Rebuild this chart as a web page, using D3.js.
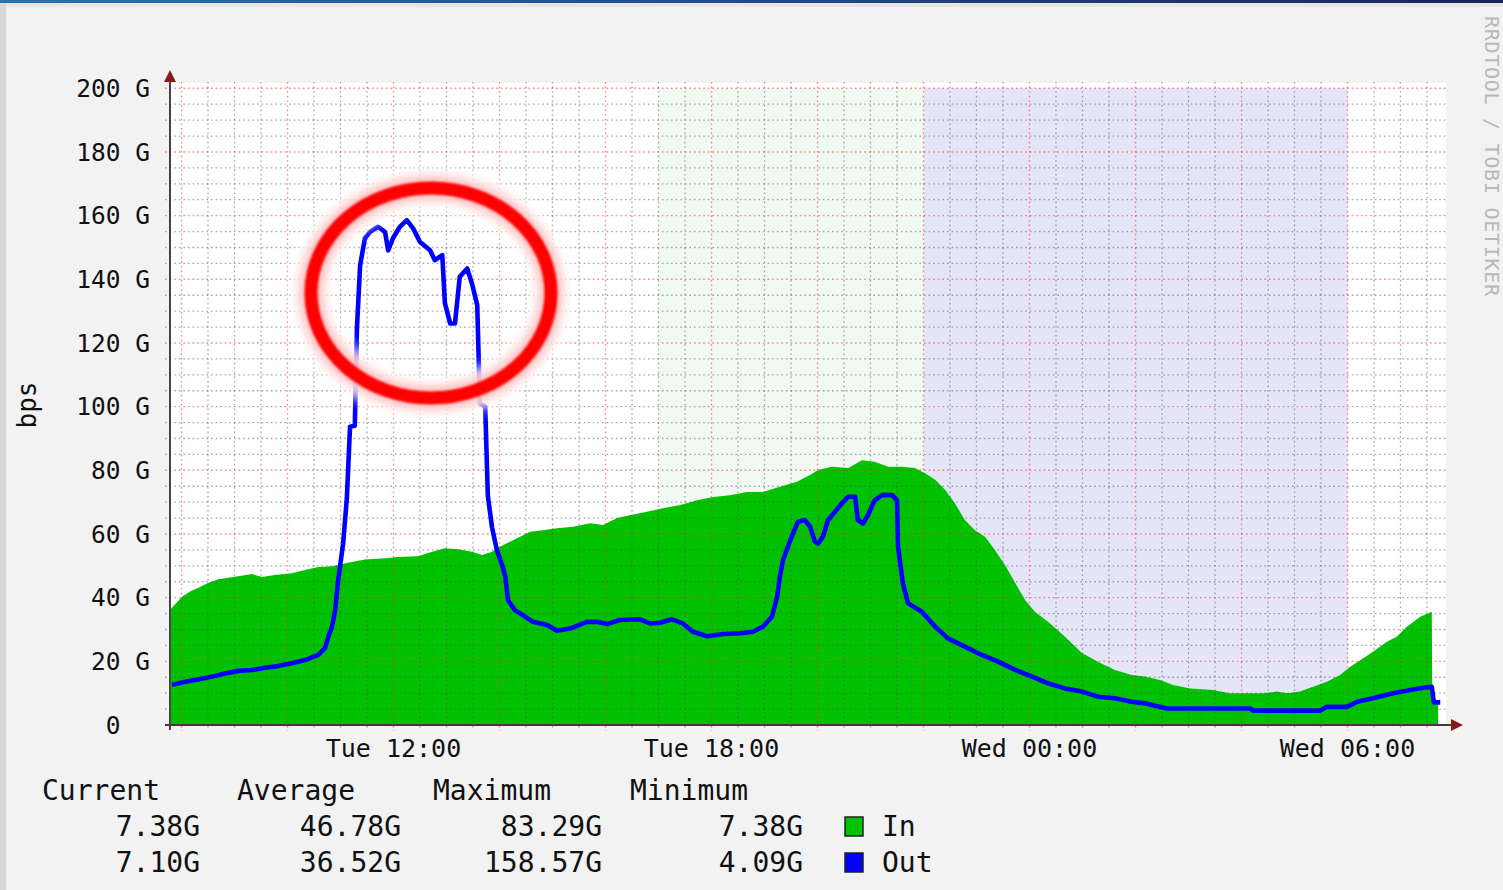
<!DOCTYPE html>
<html><head><meta charset="utf-8">
<script src="https://cdn.jsdelivr.net/npm/d3@7"></script>
<style>
html,body{margin:0;padding:0;background:#f2f2f2;}
svg{display:block;}
text{font-family:"DejaVu Sans Mono",monospace;fill:#111;}
</style></head><body>
<svg id="chart" width="1503" height="890"></svg>
<script>
// ---- data (time in hours since Tue 00:00, values in Gbps) ----
const inTimes = [7.78, 8.01, 8.16, 8.31, 8.50, 8.69, 9.01, 9.33, 9.52, 9.76, 10.08, 10.33, 10.58, 10.84, 11.14, 11.46, 11.84, 12.08, 12.46, 12.73, 12.97, 13.22, 13.48, 13.67, 13.86, 13.95, 14.14, 14.33, 14.58, 14.82, 15.08, 15.39, 15.71, 15.95, 16.22, 16.46, 16.78, 17.08, 17.41, 17.73, 18.03, 18.35, 18.67, 18.97, 19.29, 19.61, 19.86, 20.01, 20.27, 20.58, 20.84, 21.08, 21.33, 21.59, 21.84, 22.03, 22.22, 22.41, 22.59, 22.78, 22.97, 23.16, 23.35, 23.54, 23.73, 23.92, 24.10, 24.35, 24.67, 24.99, 25.29, 25.61, 25.93, 26.18, 26.46, 26.71, 27.03, 27.46, 27.78, 28.10, 28.41, 28.67, 28.86, 29.10, 29.35, 29.61, 29.86, 30.05, 30.29, 30.48, 30.75, 30.93, 31.12, 31.37, 31.59, 31.60, 31.71];
const inValues = [36.1, 40.3, 41.9, 43.0, 44.6, 45.8, 46.6, 47.4, 46.5, 47.1, 47.7, 48.7, 49.6, 49.9, 51.0, 52.0, 52.4, 52.8, 53.0, 54.4, 55.5, 55.2, 54.4, 53.4, 54.4, 55.5, 57.1, 58.7, 60.7, 61.2, 61.8, 62.3, 63.4, 62.8, 65.0, 65.9, 67.0, 68.1, 69.1, 70.6, 71.6, 72.2, 73.2, 73.2, 74.8, 76.4, 78.5, 80.1, 81.1, 80.7, 83.2, 82.7, 81.1, 81.1, 80.7, 79.1, 77.0, 73.8, 69.7, 64.4, 61.2, 59.1, 54.9, 50.2, 44.6, 39.2, 35.6, 32.4, 27.7, 22.6, 19.9, 17.3, 15.7, 15.2, 14.1, 12.6, 11.5, 11.0, 10.0, 10.0, 10.0, 10.5, 10.0, 10.5, 12.0, 13.6, 15.7, 18.3, 20.9, 23.0, 26.2, 27.7, 30.9, 34.0, 35.6, 7.38, 7.38];

const outTimes = [7.82, 8.07, 8.31, 8.58, 8.82, 9.07, 9.33, 9.58, 9.82, 10.08, 10.33, 10.58, 10.71, 10.77, 10.84, 10.90, 10.95, 11.05, 11.12, 11.18, 11.27, 11.31, 11.37, 11.46, 11.56, 11.71, 11.84, 11.90, 11.99, 12.12, 12.25, 12.37, 12.50, 12.69, 12.78, 12.92, 12.97, 13.07, 13.16, 13.25, 13.39, 13.48, 13.58, 13.63, 13.73, 13.78, 13.86, 13.95, 14.05, 14.11, 14.16, 14.29, 14.44, 14.63, 14.90, 15.08, 15.33, 15.65, 15.84, 16.03, 16.27, 16.65, 16.84, 17.03, 17.25, 17.46, 17.65, 17.92, 18.22, 18.54, 18.78, 18.97, 19.14, 19.24, 19.29, 19.35, 19.44, 19.54, 19.63, 19.76, 19.86, 19.95, 20.01, 20.10, 20.20, 20.33, 20.46, 20.58, 20.71, 20.76, 20.86, 20.95, 21.08, 21.22, 21.41, 21.50, 21.52, 21.61, 21.71, 21.97, 22.22, 22.46, 22.78, 23.10, 23.41, 23.73, 24.05, 24.35, 24.67, 24.99, 25.29, 25.61, 25.93, 26.18, 26.59, 27.35, 28.16, 28.22, 29.48, 29.61, 29.99, 30.18, 30.48, 30.86, 31.18, 31.43, 31.59, 31.63, 31.75];
const outValues = [12.6, 13.6, 14.3, 15.2, 16.2, 17.0, 17.3, 18.0, 18.5, 19.4, 20.4, 22.0, 24.2, 27.7, 30.9, 36.1, 44.6, 57.1, 71.3, 93.7, 94.0, 124.6, 144.4, 152.9, 154.9, 156.5, 154.9, 149.1, 152.9, 156.5, 158.6, 156.0, 151.7, 149.1, 146.0, 147.6, 132.5, 126.1, 126.1, 140.8, 143.4, 138.7, 131.9, 101.0, 100.0, 72.0, 62.0, 55.0, 50.2, 46.6, 39.2, 36.1, 34.5, 32.4, 31.4, 29.6, 30.3, 32.4, 32.4, 31.7, 33.0, 33.2, 31.9, 32.1, 33.2, 31.9, 29.3, 27.9, 28.6, 28.8, 29.3, 30.9, 34.0, 40.3, 46.6, 51.8, 56.0, 60.2, 63.8, 64.4, 62.3, 57.6, 57.0, 59.1, 64.4, 67.0, 69.6, 71.7, 71.7, 64.4, 63.3, 65.9, 70.6, 72.2, 72.2, 70.6, 56.0, 44.5, 38.2, 35.6, 30.9, 27.2, 24.6, 22.0, 19.9, 17.3, 15.2, 13.1, 11.5, 10.5, 8.9, 8.4, 7.3, 6.8, 5.2, 5.2, 5.2, 4.5, 4.5, 5.7, 5.7, 7.3, 8.4, 10.0, 11.0, 11.7, 12.0, 7.1, 7.1];

// highlighted periods (hours since Tue 00:00)
const bandStarts = [17, 22];
const bandEnds = [22, 30];
const bandColors = ["#f0faf2", "#e5e5f8"];

const yTickValues = [0, 20, 40, 60, 80, 100, 120, 140, 160, 180, 200];
const yTickLabels = ["0  ", "20 G", "40 G", "60 G", "80 G", "100 G", "120 G", "140 G", "160 G", "180 G", "200 G"];

const legendHeaders = ["Current", "Average", "Maximum", "Minimum"];
const inStats = ["7.38G", "46.78G", "83.29G", "7.38G"];
const outStats = ["7.10G", "36.52G", "158.57G", "4.09G"];
const seriesNames = ["In", "Out"];
const seriesColors = ["#00c200", "#0000ff"];

// ---- setup ----
const base = new Date(2019, 0, 1, 0, 0, 0); // a Tuesday
const toDate = h => new Date(base.getTime() + h * 3600e3);
const W = 1503, H = 890;
const pL = 170, pR = 1448, pT = 88.3, pB = 725;

const x = d3.scaleTime().domain([toDate(7.783), toDate(31.896)]).range([pL, pR]);
const y = d3.scaleLinear().domain([0, 200]).range([pB, pT]);

const svg = d3.select("#chart");
const defs = svg.append("defs");
const grad = defs.append("linearGradient").attr("id", "topbar");
grad.append("stop").attr("offset", "0%").attr("stop-color", "#2a6fb5");
grad.append("stop").attr("offset", "100%").attr("stop-color", "#1a2456");
defs.append("filter").attr("id", "blur6").attr("x", "-30%").attr("y", "-30%").attr("width", "160%").attr("height", "160%")
  .append("feGaussianBlur").attr("stdDeviation", 6);
defs.append("filter").attr("id", "blur1")
  .append("feGaussianBlur").attr("stdDeviation", 0.8);

// canvas
svg.append("rect").attr("width", W).attr("height", H).attr("fill", "#f2f2f2");
svg.append("rect").attr("x", 0).attr("y", 0).attr("width", 6).attr("height", H).attr("fill", "#d8d8d8");
svg.append("rect").attr("x", 0).attr("y", 0).attr("width", W).attr("height", 3).attr("fill", "url(#topbar)");
svg.append("rect").attr("x", 6).attr("y", 3).attr("width", W).attr("height", 4).attr("fill", "#e6e6e6");

// plot background
svg.append("rect").attr("x", pL).attr("y", 83).attr("width", pR - pL - 2).attr("height", pB - 83).attr("fill", "#ffffff");

// bands
svg.append("g").selectAll("rect").data(bandStarts).join("rect")
  .attr("x", (d) => x(toDate(d)))
  .attr("width", (d, i) => x(toDate(bandEnds[i])) - x(toDate(d)))
  .attr("y", pT).attr("height", pB - pT)
  .attr("fill", (d, i) => bandColors[i]);

// data
const inData = inTimes.map((t, i) => ({ t: toDate(t), v: inValues[i] }));
const outData = outTimes.map((t, i) => ({ t: toDate(t), v: outValues[i] }));

svg.append("path").datum(inData)
  .attr("fill", seriesColors[0])
  .attr("d", d3.area().x(d => x(d.t)).y0(y(0)).y1(d => y(d.v)).curve(d3.curveLinear));

// grid
const grid = svg.append("g").attr("fill", "none");
const minorCol = "rgba(80,80,80,0.5)", majorCol = "rgba(240,40,40,0.55)";
const minorY = d3.range(5, 200, 5).filter(v => v % 20 !== 0);
grid.selectAll(".my").data(minorY).join("line")
  .attr("x1", pL - 5).attr("x2", pR)
  .attr("y1", d => y(d)).attr("y2", d => y(d))
  .attr("stroke", minorCol).attr("stroke-width", 1.3).attr("stroke-dasharray", "1.6,3");
const minorX = x.ticks(d3.timeMinute.every(30)).filter(d => !(d.getMinutes() === 0 && d.getHours() % 2 === 0));
grid.selectAll(".mx").data(minorX).join("line")
  .attr("x1", d => x(d)).attr("x2", d => x(d))
  .attr("y1", 82).attr("y2", pB + 4)
  .attr("stroke", minorCol).attr("stroke-width", 1.3).attr("stroke-dasharray", "1.6,3");
const majorX = x.ticks(d3.timeHour.every(2));
grid.selectAll(".Mx").data(majorX).join("line")
  .attr("x1", d => x(d)).attr("x2", d => x(d))
  .attr("y1", 82).attr("y2", pB + 6)
  .attr("stroke", majorCol).attr("stroke-width", 1.4).attr("stroke-dasharray", "1.6,3");
grid.selectAll(".My").data(yTickValues.filter(v => v > 0)).join("line")
  .attr("x1", pL - 5).attr("x2", pR)
  .attr("y1", d => y(d)).attr("y2", d => y(d))
  .attr("stroke", majorCol).attr("stroke-width", 1.4).attr("stroke-dasharray", "1.6,3");

// out line
svg.append("path").datum(outData)
  .attr("fill", "none").attr("stroke", seriesColors[1]).attr("stroke-width", 4.6)
  .attr("stroke-linejoin", "round")
  .attr("d", d3.line().x(d => x(d.t)).y(d => y(d.v)).curve(d3.curveLinear));

// axes
svg.append("line").attr("x1", pL).attr("x2", pL).attr("y1", pB + 5).attr("y2", 80)
  .attr("stroke", "#454545").attr("stroke-width", 2);
svg.append("path").attr("d", `M${pL - 6},82 L${pL + 6},82 L${pL},70 Z`).attr("fill", "#8b1a1a");
svg.append("line").attr("x1", pL - 5).attr("x2", pR + 4).attr("y1", pB).attr("y2", pB)
  .attr("stroke", "#4a3535").attr("stroke-width", 2);
svg.append("path").attr("d", `M${pR + 3},${pB - 6} L${pR + 3},${pB + 6} L${pR + 15},${pB} Z`).attr("fill", "#8b1a1a");

// y labels
svg.append("g").selectAll("text").data(yTickValues).join("text")
  .attr("x", 150).attr("y", d => y(d)).attr("dy", "0.36em")
  .attr("text-anchor", "end").style("white-space", "pre")
  .attr("font-size", 24.5)
  .text((d, i) => yTickLabels[i]);

// x labels
const fmt = d3.timeFormat("%a %H:%M");
svg.append("g").selectAll("text").data(x.ticks(d3.timeHour.every(6))).join("text")
  .attr("x", d => x(d)).attr("y", 757).attr("text-anchor", "middle")
  .attr("font-size", 25).text(d => fmt(d));

// axis title
svg.append("text").attr("transform", "translate(36,405) rotate(-90)")
  .attr("text-anchor", "middle").attr("font-size", 26).text("bps");

// watermark
svg.append("text").attr("transform", "translate(1485,16) rotate(90)")
  .attr("font-size", 20).attr("textLength", 280).style("fill", "#b8b8b8").text("RRDTOOL / TOBI OETIKER");

// legend
const headerX = [42, 237, 433, 630];
const valueRight = [200, 401, 602, 803];
const lg = svg.append("g").attr("font-size", 28);
lg.selectAll(".h").data(legendHeaders).join("text")
  .attr("x", (d, i) => headerX[i]).attr("y", 800).text(d => d);
[inStats, outStats].forEach((row, r) => {
  const yy = 836 + r * 36;
  lg.append("g").selectAll("text").data(row).join("text")
    .attr("x", (d, i) => valueRight[i]).attr("y", yy).attr("text-anchor", "end").text(d => d);
  lg.append("rect").attr("x", 845).attr("y", yy - 19).attr("width", 18).attr("height", 19)
    .attr("fill", seriesColors[r]).attr("stroke", "#222").attr("stroke-width", 1.5);
  lg.append("text").attr("x", 882).attr("y", yy).text(seriesNames[r]);
});

// annotation ellipse
const ann = svg.append("g");
ann.append("ellipse").attr("cx", 431).attr("cy", 293).attr("rx", 120).attr("ry", 105)
  .attr("fill", "none").attr("stroke", "#ffffff").attr("stroke-width", 40).attr("opacity", 0.9).attr("filter", "url(#blur6)");
ann.append("ellipse").attr("cx", 431).attr("cy", 293).attr("rx", 120).attr("ry", 105)
  .attr("fill", "none").attr("stroke", "#ff8080").attr("stroke-width", 22).attr("opacity", 0.6).attr("filter", "url(#blur6)");
ann.append("ellipse").attr("cx", 431).attr("cy", 293).attr("rx", 120).attr("ry", 105)
  .attr("fill", "none").attr("stroke", "#ff0000").attr("stroke-width", 13).attr("filter", "url(#blur1)");
</script>
</body></html>
